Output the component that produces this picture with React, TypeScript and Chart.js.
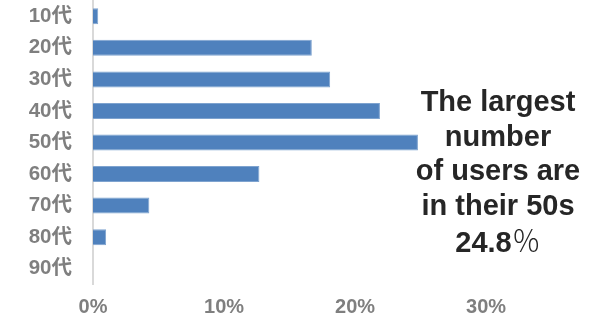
import React, { useEffect, useRef } from "react";
import { Chart, registerables } from "chart.js";

Chart.register(...registerables);

const categories = ["10代", "20代", "30代", "40代", "50代", "60代", "70代", "80代", "90代"];
const shares = [0.4, 16.7, 18.1, 21.9, 24.8, 12.7, 4.3, 1.0, 0];
const xTickValues = [0, 10, 20, 30];
const noteLines = ["The largest", "number", "of users are", "in their 50s", "24.8％"];

const FONT = "'Liberation Sans', Arial, 'Noto Sans CJK JP', sans-serif";

export default function App() {
  const canvasRef = useRef<HTMLCanvasElement | null>(null);

  useEffect(() => {
    const canvas = canvasRef.current;
    if (!canvas) return;
    const chart = new Chart(canvas, {
      type: "bar",
      data: {
        labels: categories,
        datasets: [
          {
            data: shares,
            backgroundColor: "#4f81bd",
            borderColor: "#7ea3cf",
            borderWidth: 1,
            categoryPercentage: 1,
            barPercentage: 0.507,
          },
        ],
      },
      options: {
        indexAxis: "y",
        responsive: false,
        animation: false,
        maintainAspectRatio: false,
        layout: { padding: { left: 0, right: 3, top: 0.5, bottom: 0 } },
        plugins: {
          legend: { display: false },
          tooltip: { enabled: false },
        },
        scales: {
          x: {
            min: 0,
            max: 39,
            grid: { display: false, drawTicks: false },
            border: { display: false },
            afterBuildTicks: (scale: any) => {
              scale.ticks = xTickValues.map((v) => ({ value: v }));
            },
            afterFit: (scale: any) => {
              scale.height = 36.5;
              scale.paddingLeft = 0;
              scale.paddingRight = 0;
            },
            ticks: {
              padding: 11,
              color: "#7f7f7f",
              font: { family: FONT, size: 20, weight: "bold" },
              callback: (v: any) => `${v}%`,
              maxRotation: 0,
              autoSkip: false,
            },
          },
          y: {
            grid: { display: false, drawTicks: false },
            border: { display: true, color: "#d9d9d9", width: 2 },
            afterFit: (scale: any) => {
              scale.width = 93;
              scale.paddingTop = 0;
              scale.paddingBottom = 0;
            },
            ticks: {
              padding: 21,
              color: "#7f7f7f",
              font: { family: FONT, size: 20.5, weight: "bold" },
              autoSkip: false,
            },
          },
        },
      },
    });
    return () => chart.destroy();
  }, []);

  return (
    <div style={{ position: "absolute", left: 0, top: 0, width: 607, height: 321, background: "#fff" }}>
      <canvas ref={canvasRef} width={607} height={321} style={{ display: "block", width: 607, height: 321 }} />
      <div
        style={{
          position: "absolute",
          left: 398,
          top: 84,
          width: 200,
          textAlign: "center",
          fontFamily: FONT,
          fontWeight: "bold",
          fontSize: 29,
          lineHeight: "34.5px",
          color: "#262626",
          whiteSpace: "nowrap",
        }}
      >
        {noteLines.map((l, i) => {
          if (l.endsWith("％")) {
            return (
              <div key={i}>
                {l.slice(0, -1)}
                <span style={{ fontFamily: "'Noto Sans CJK JP', sans-serif", fontWeight: 300 }}>％</span>
              </div>
            );
          }
          return <div key={i}>{l}</div>;
        })}
      </div>
    </div>
  );
}
